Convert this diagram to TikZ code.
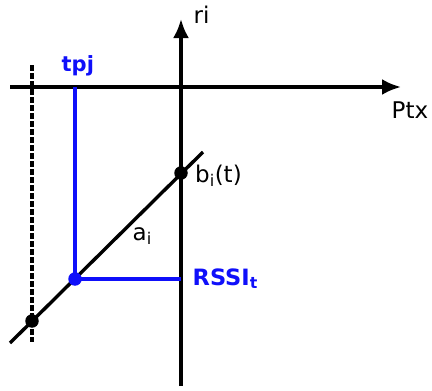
\documentclass[tikz,border=0pt]{standalone}
\usepackage{fontspec}
\setmainfont{DejaVu Sans}
\usetikzlibrary{arrows.meta}
\definecolor{myblue}{RGB}{15,15,250}
\begin{document}
\begin{tikzpicture}[x=1pt,y=-1pt,
  axis/.style={line width=3.4pt,-{Latex[length=19pt,width=16pt]}},
  thick3/.style={line width=3.4pt},
  bl/.style={line width=3.4pt,draw=myblue},
  dot/.style={circle,fill=black,inner sep=0pt,minimum size=13.5pt},
  bdot/.style={circle,fill=myblue,inner sep=0pt,minimum size=13.5pt},
  lbl/.style={font=\fontsize{23}{27}\selectfont,inner sep=0pt,anchor=base west},
  blbl/.style={font=\fontsize{22.5}{27}\selectfont\bfseries,text=myblue,inner sep=0pt,anchor=base west}]
\useasboundingbox (0,0) rectangle (432,391);
% axes
\coordinate (ybot) at (181,386);
\coordinate (ytop) at (181,19);
\coordinate (xl) at (10,87);
\coordinate (xr) at (401,87);
\draw[axis] (ybot) -- (ytop);
\draw[axis] (xl) -- (xr);
\node[lbl] (ri) at (193.5,23) {ri};
\node[lbl] (ptx) at (391.5,118) {Ptx};
% diagonal
\coordinate (dl) at (10,343);
\coordinate (dr) at (203,152);
\draw[thick3] (dl) -- (dr);
% dashed
\coordinate (dt) at (32,65);
\coordinate (db) at (32,342);
\draw[line width=3.4pt,dash pattern=on 5.5pt off 2.5pt] (dt) -- (db);
% blue
\coordinate (bt) at (75,87);
\coordinate (bp) at (75,279);
\coordinate (br) at (181,279);
\draw[bl] (bt) -- (bp) -- (br);
\node[bdot] (bpd) at (bp) {};
\node[dot] (d1) at (181,173) {};
\node[dot] (d2) at (32,321) {};
\node[blbl,font=\fontsize{21}{25}\selectfont\bfseries] (tpj) at (61.5,71) {tpj};
\node[blbl] (rssi) at (192.5,285) {RSSI\textsubscript{t}};
\node[lbl] (bi) at (195,182.5) {b\textsubscript{i}(t)};
\node[lbl] (ai) at (132.5,240.5) {a\textsubscript{i}};
\end{tikzpicture}
\end{document}
